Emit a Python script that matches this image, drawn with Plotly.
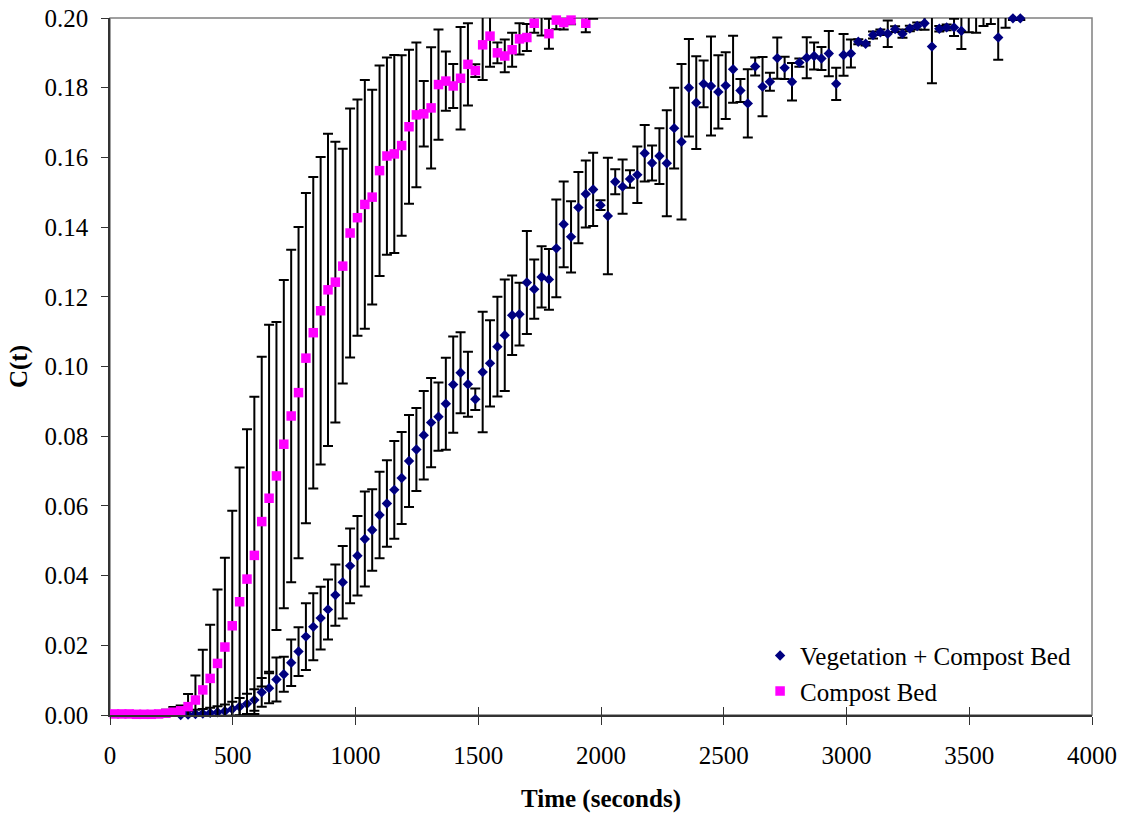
import numpy as np
import plotly.graph_objects as go

# ---------------- data ----------------
compost_t = [18, 48, 78, 108, 138, 168, 198, 228, 258, 288, 318, 348, 378, 408, 438, 468, 498, 528, 558, 588,
             618, 648, 678, 708, 738, 768, 798, 828, 858, 888, 918, 948, 978, 1008, 1038, 1068, 1098, 1128, 1158, 1188,
             1218, 1248, 1278, 1308, 1338, 1368, 1398, 1428, 1458, 1488, 1518, 1548, 1578, 1608, 1638, 1668, 1698, 1728,
             1758, 1788, 1818, 1848, 1878, 1908, 1938, 1968]
compost_c = [0.0003, 0.0003, 0.0003, 0.0002, 0.0002, 0.0002, 0.0003, 0.0005, 0.0008, 0.0012, 0.0024, 0.0043,
             0.0072, 0.0105, 0.0148, 0.0195, 0.0256, 0.0325, 0.0390, 0.0458, 0.0555, 0.0622, 0.0686, 0.0777,
             0.0858, 0.0925, 0.1024, 0.1097, 0.1160, 0.1220, 0.1242, 0.1288, 0.1383, 0.1427, 0.1465, 0.1486,
             0.1562, 0.1604, 0.1610, 0.1634, 0.1688, 0.1722, 0.1725, 0.1742, 0.1809, 0.1819, 0.1805, 0.1827,
             0.1867, 0.1849, 0.1923, 0.1948, 0.1900, 0.1891, 0.1909, 0.1940, 0.1944, 0.1985, 0.2002, 0.1955,
             0.1994, 0.1987, 0.1994, 0.2012, 0.1985, 0.2010]
compost_err = [0.0002, 0.0002, 0.0002, 0.0002, 0.0002, 0.0002, 0.0002, 0.0010, 0.0015, 0.0015, 0.0036, 0.0070,
               0.0115, 0.0154, 0.0212, 0.0256, 0.0330, 0.0385, 0.0430, 0.0455, 0.0473, 0.0498, 0.0442, 0.0471,
               0.0477, 0.0475, 0.0474, 0.0447, 0.0441, 0.0448, 0.0403, 0.0337, 0.0357, 0.0339, 0.0357, 0.0308,
               0.0302, 0.0283, 0.0284, 0.0259, 0.0221, 0.0208, 0.0094, 0.0174, 0.0158, 0.0085, 0.0063, 0.0147,
               0.0118, 0.0018, 0.0101, 0.0088, 0.0030, 0.0047, 0.0049, 0.0045, 0.0039, 0.0027, 0.0052, 0.0043,
               0.0026, 0.0020, 0.0012, 0.0010, 0.0026, 0.0012]

veg_t = [288, 318, 348, 378, 408, 438, 468, 498, 528, 558, 588, 618, 648, 678, 708, 738, 768, 798, 828, 858,
         888, 918, 948, 978, 1008, 1038, 1068, 1098, 1128, 1158, 1188, 1218, 1248, 1278, 1308, 1338, 1368, 1398,
         1428, 1458, 1488, 1518, 1548, 1578, 1608, 1638, 1668, 1698, 1728, 1758, 1788, 1818, 1848, 1878, 1908,
         1938, 1968, 1998, 2028, 2058, 2088, 2118, 2148, 2178, 2208, 2238, 2268, 2298, 2328, 2358, 2388, 2418,
         2448, 2478, 2508, 2538, 2568, 2598, 2628, 2658, 2688, 2718, 2748, 2778, 2808, 2838, 2868, 2898, 2928,
         2958, 2988, 3018, 3048, 3078, 3108, 3138, 3168, 3198, 3228, 3258, 3288, 3318, 3348, 3378, 3408, 3438,
         3468, 3498, 3528, 3558, 3588, 3618, 3648, 3678, 3708]
veg_c = [0.0000, 0.0001, 0.0003, 0.0004, 0.0006, 0.0008, 0.0011, 0.0017, 0.0024, 0.0032, 0.0043, 0.0065,
         0.0077, 0.0102, 0.0117, 0.0150, 0.0182, 0.0225, 0.0253, 0.0278, 0.0303, 0.0344, 0.0381, 0.0428,
         0.0457, 0.0505, 0.0531, 0.0574, 0.0607, 0.0646, 0.0680, 0.0729, 0.0762, 0.0803, 0.0839, 0.0856,
         0.0893, 0.0948, 0.0982, 0.0949, 0.0906, 0.0984, 0.1009, 0.1057, 0.1090, 0.1147, 0.1150, 0.1241,
         0.1222, 0.1257, 0.1250, 0.1339, 0.1408, 0.1372, 0.1456, 0.1495, 0.1508, 0.1463, 0.1432, 0.1530,
         0.1516, 0.1538, 0.1550, 0.1612, 0.1584, 0.1604, 0.1583, 0.1684, 0.1645, 0.1800, 0.1757, 0.1811,
         0.1805, 0.1788, 0.1806, 0.1853, 0.1792, 0.1755, 0.1861, 0.1803, 0.1817, 0.1885, 0.1857, 0.1817,
         0.1872, 0.1886, 0.1891, 0.1884, 0.1898, 0.1811, 0.1894, 0.1898, 0.1932, 0.1926, 0.1951, 0.1959,
         0.1955, 0.1968, 0.1955, 0.1970, 0.1977, 0.1985, 0.1918, 0.1969, 0.1973, 0.1973, 0.1963, 0.2015,
         0.2018, 0.2012, 0.2008, 0.1944, 0.2010, 0.1999, 0.1999]
veg_err = [0.0010, 0.0010, 0.0012, 0.0013, 0.0015, 0.0017, 0.0019, 0.0021, 0.0025, 0.0029, 0.0031, 0.0041,
           0.0043, 0.0063, 0.0050, 0.0067, 0.0070, 0.0096, 0.0096, 0.0090, 0.0086, 0.0088, 0.0104, 0.0107,
           0.0114, 0.0136, 0.0117, 0.0124, 0.0124, 0.0140, 0.0132, 0.0132, 0.0119, 0.0127, 0.0128, 0.0098,
           0.0132, 0.0138, 0.0116, 0.0093, 0.0031, 0.0173, 0.0124, 0.0143, 0.0160, 0.0114, 0.0090, 0.0148,
           0.0085, 0.0088, 0.0087, 0.0140, 0.0123, 0.0102, 0.0102, 0.0096, 0.0105, 0.0014, 0.0167, 0.0036,
           0.0078, 0.0025, 0.0081, 0.0081, 0.0050, 0.0080, 0.0152, 0.0116, 0.0223, 0.0140, 0.0133, 0.0067,
           0.0142, 0.0105, 0.0096, 0.0096, 0.0033, 0.0098, 0.0026, 0.0085, 0.0026, 0.0059, 0.0032, 0.0054,
           0.0012, 0.0059, 0.0039, 0.0033, 0.0065, 0.0046, 0.0060, 0.0040, 0.0007, 0.0005, 0.0010, 0.0008,
           0.0038, 0.0008, 0.0012, 0.0008, 0.0010, 0.0019, 0.0105, 0.0008, 0.0008, 0.0025, 0.0052, 0.0056,
           0.0060, 0.0035, 0.0025, 0.0064, 0.0038, 0.0005, 0.0005]

x_ticks = [0, 500, 1000, 1500, 2000, 2500, 3000, 3500, 4000]
y_ticks = [0.00, 0.02, 0.04, 0.06, 0.08, 0.10, 0.12, 0.14, 0.16, 0.18, 0.20]
Y_MAX = 0.20

FONT = "Liberation Serif, Times New Roman, serif"
NAVY = "#000080"
PINK = "#FF00FF"

fig = go.Figure()


def add_series(t, c, e, name, color, symbol, size):
    t = np.asarray(t); c = np.asarray(c); e = np.asarray(e)
    inside = c <= Y_MAX + 0.0005
    err = dict(type="data", array=None, color="black", thickness=2, width=5, visible=True)
    # points within the axis range (drawn unclipped so markers on the axis are whole)
    fig.add_trace(go.Scatter(
        x=t[inside], y=c[inside], mode="markers", name=name,
        marker=dict(color=color, symbol=symbol, size=size, line=dict(width=0)),
        error_y={**err, "array": e[inside]}, cliponaxis=False))
    # points above the axis range (clipped, only their error bars show)
    if (~inside).any():
        fig.add_trace(go.Scatter(
            x=t[~inside], y=c[~inside], mode="markers", showlegend=False,
            marker=dict(color=color, symbol=symbol, size=size, line=dict(width=0)),
            error_y={**err, "array": e[~inside]}, cliponaxis=True))


add_series(veg_t, veg_c, veg_err, "Vegetation + Compost Bed", NAVY, "diamond", 8)
add_series(compost_t, compost_c, compost_err, "Compost Bed", PINK, "square", 9.5)

# helper trace for the inside half of the crossing x ticks
fig.add_trace(go.Scatter(x=[None], y=[None], xaxis="x2", showlegend=False, hoverinfo="skip"))

fig.update_layout(
    width=1125, height=818,
    margin=dict(l=110, r=33, t=18, b=103),
    paper_bgcolor="white", plot_bgcolor="white",
    font=dict(family=FONT, size=25, color="black"),
    showlegend=True,
    legend=dict(x=0.662, y=0.118, xanchor="left", yanchor="top",
                bgcolor="rgba(0,0,0,0)", borderwidth=0,
                font=dict(family=FONT, size=25, color="black"),
                itemsizing="trace", tracegroupgap=0),
    xaxis=dict(range=[0, 4000], tickmode="array", tickvals=x_ticks,
               ticktext=[str(v) for v in x_ticks], automargin=False,
               showgrid=False, zeroline=False,
               showline=True, linecolor="#333333", linewidth=1.5,
               ticks="outside", ticklen=8, tickwidth=1.2, tickcolor="#333333",
               ticklabelstandoff=9,
               title=dict(text="<b>Time (seconds)</b>", standoff=22,
                          font=dict(family=FONT, size=25, color="black"))),
    xaxis2=dict(range=[0, 4000], overlaying="x", anchor="y", side="bottom",
                tickmode="array", tickvals=x_ticks, showticklabels=False, automargin=False,
                showgrid=False, zeroline=False, showline=False,
                ticks="inside", ticklen=8, tickwidth=1.2, tickcolor="#333333"),
    yaxis=dict(range=[0, Y_MAX], tickmode="array", tickvals=y_ticks,
               ticktext=[f"{v:.2f}" for v in y_ticks], automargin=False,
               showgrid=False, zeroline=False,
               showline=True, linecolor="#333333", linewidth=1.5,
               ticks="outside", ticklen=7, tickwidth=1.2, tickcolor="#333333",
               ticklabelstandoff=8,
               title=dict(text="<b>C(t)</b>", standoff=10,
                          font=dict(family=FONT, size=25, color="black"))),
    shapes=[dict(type="rect", xref="paper", yref="paper", x0=0, y0=0, x1=1, y1=1,
                 line=dict(color="#808080", width=1.5), fillcolor="rgba(0,0,0,0)", layer="below")],
)

fig.write_html("out.html")
